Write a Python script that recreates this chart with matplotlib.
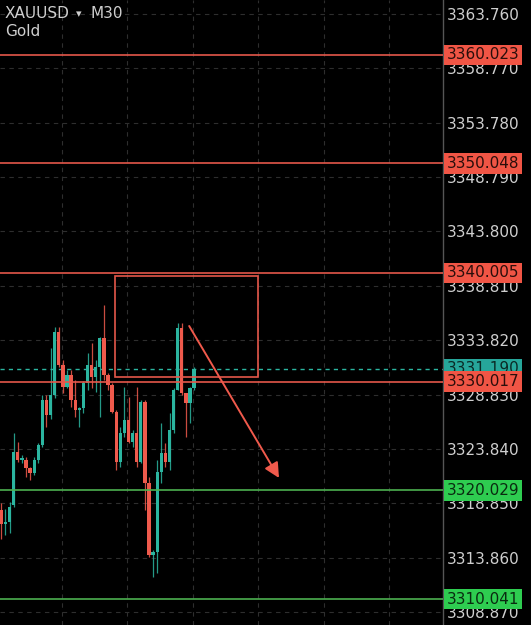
import numpy as np
import matplotlib
matplotlib.use('Agg')
import matplotlib.pyplot as plt
from matplotlib.patches import Rectangle
import matplotlib.transforms as mtransforms

# 30-minute candles (open, high, low, close)
opens = [3318.20, 3316.90, 3317.13, 3318.69, 3323.55, 3322.82, 3322.82, 3322.09, 3321.63,
         3322.82, 3324.20, 3328.33, 3326.95, 3328.79, 3334.57, 3331.54, 3329.52,
         3330.62, 3328.33, 3327.41, 3327.59, 3329.89, 3331.54, 3330.44, 3331.36,
         3334.02, 3330.62, 3329.70, 3327.23, 3322.64, 3325.30, 3326.49, 3324.47,
         3325.30, 3322.64, 3328.14, 3320.71, 3314.10, 3314.38, 3321.72, 3323.46,
         3322.64, 3325.57, 3329.25, 3334.94, 3328.97, 3328.05, 3329.43]
highs = [3318.90, 3318.30, 3318.97, 3325.30, 3324.47, 3323.28, 3323.10, 3322.18, 3323.10,
         3324.38, 3328.79, 3328.79, 3333.10, 3335.03, 3335.03, 3332.00, 3331.08,
         3331.08, 3330.16, 3327.69, 3330.07, 3332.64, 3333.56, 3332.00, 3334.11,
         3337.05, 3330.81, 3329.89, 3327.41, 3325.85, 3329.52, 3328.60, 3325.57,
         3329.52, 3328.33, 3328.33, 3321.26, 3314.56, 3322.82, 3326.22, 3324.38,
         3327.14, 3329.43, 3335.40, 3335.40, 3328.97, 3329.52, 3331.36]
lows = [3315.60, 3315.90, 3316.12, 3318.51, 3322.64, 3322.54, 3321.26, 3320.98, 3321.45,
        3322.54, 3324.01, 3325.85, 3326.60, 3328.50, 3331.36, 3328.97, 3329.43,
        3327.69, 3326.77, 3325.85, 3327.14, 3329.25, 3329.43, 3329.06, 3326.77,
        3330.16, 3329.25, 3327.14, 3321.90, 3322.18, 3324.93, 3324.38, 3324.01,
        3322.18, 3322.54, 3318.23, 3313.92, 3312.08, 3312.45, 3320.71, 3322.18,
        3321.90, 3325.30, 3329.25, 3328.79, 3324.93, 3326.22, 3329.25]
closes = [3316.90, 3317.13, 3318.51, 3323.55, 3322.82, 3323.00, 3322.09, 3321.63, 3322.82,
          3324.20, 3328.33, 3326.95, 3328.79, 3334.57, 3331.54, 3329.52, 3330.62,
          3328.33, 3327.41, 3327.59, 3329.89, 3331.54, 3330.44, 3331.36, 3334.02,
          3330.62, 3329.70, 3327.23, 3322.64, 3325.30, 3326.49, 3324.47, 3325.30,
          3322.64, 3328.14, 3320.71, 3314.10, 3314.38, 3321.72, 3323.46, 3322.64,
          3325.57, 3329.25, 3334.94, 3328.97, 3328.05, 3329.43, 3331.19]

resistance_levels = [3360.023, 3350.048, 3340.005, 3330.017]
support_levels = [3320.029, 3310.041]
last_price = 3331.19
y_ticks = [3363.760, 3358.770, 3353.780, 3348.790, 3343.800, 3338.810,
           3333.820, 3328.830, 3323.840, 3318.850, 3313.860, 3308.870]

# zone box and projected move (candle index, price)
zone_x = (27.7, 62.6)
zone_y = (3330.44, 3339.71)
arrow_start = (45.8, 3335.12)
arrow_end = (67.7, 3321.17)

UP = '#2bb5a0'
DOWN = '#ef5a4c'
RED_LINE = '#e4574a'
GREEN_LINE = '#4cb050'
GREEN_BOX = '#2ecc50'
TEXT = '#cfcfcf'

fig = plt.figure(figsize=(5.31, 6.25), dpi=100, facecolor='black')
ax = fig.add_axes([0, 0, 443 / 531, 1], facecolor='black')

idx = np.arange(len(opens))
for i in idx:
    o, h, l, c = opens[i], highs[i], lows[i], closes[i]
    col = UP if c >= o else DOWN
    ax.vlines(i, l, h, color=col, linewidth=0.9, alpha=0.85, zorder=3)
    body = max(abs(c - o), 0.18)
    ax.add_patch(Rectangle((i - 0.4, min(o, c)), 0.8, body,
                           facecolor=col, edgecolor='none', zorder=4))

ax.set_xlim(-0.34, 107.7)
ax.set_ylim(3307.67, 3365.05)

# grid
for gx in np.arange(14.8, 107, 15.95):
    ax.axvline(gx, color='#2e2e2e', linewidth=0.8, linestyle=(0, (4, 4)), zorder=1)
for gy in y_ticks:
    ax.axhline(gy, color='#2e2e2e', linewidth=0.8, linestyle=(0, (4, 4)), zorder=1)

# level lines
for lv in resistance_levels:
    ax.axhline(lv, color=RED_LINE, linewidth=1.2, zorder=5)
for lv in support_levels:
    ax.axhline(lv, color=GREEN_LINE, linewidth=1.2, zorder=5)
ax.axhline(last_price, color=UP, linewidth=1.0, linestyle=(0, (3, 3)), zorder=2)

# zone box
ax.add_patch(Rectangle((zone_x[0], zone_y[0]), zone_x[1] - zone_x[0],
                       zone_y[1] - zone_y[0], facecolor='none',
                       edgecolor=RED_LINE, linewidth=1.2, zorder=6))
ax.annotate('', xy=arrow_end, xytext=arrow_start,
            arrowprops=dict(arrowstyle='-|>,head_length=0.9,head_width=0.45',
                            color='#f05a4c', linewidth=1.4, shrinkA=0, shrinkB=0),
            zorder=7)

# right price axis
ax.yaxis.tick_right()
ax.set_yticks(y_ticks)
ax.set_yticklabels(['%.3f' % t for t in y_ticks])
ax.tick_params(axis='y', length=0, pad=3, labelsize=11, labelcolor=TEXT)
ax.set_xticks([])
for side in ['top', 'left', 'bottom']:
    ax.spines[side].set_visible(False)
ax.spines['right'].set_color('#555555')
ax.spines['right'].set_linewidth(1.0)

trans = mtransforms.blended_transform_factory(ax.transAxes, ax.transData)
for lv in resistance_levels:
    ax.text(1.008, lv, '%.3f' % lv, transform=trans, ha='left', va='center',
            fontsize=11, color='#2a0e0b', zorder=10, clip_on=False,
            bbox=dict(boxstyle='square,pad=0.18', facecolor='#f05545', edgecolor='none'))
for lv in support_levels:
    ax.text(1.008, lv, '%.3f' % lv, transform=trans, ha='left', va='center',
            fontsize=11, color='#0a2a10', zorder=10, clip_on=False,
            bbox=dict(boxstyle='square,pad=0.18', facecolor=GREEN_BOX, edgecolor='none'))
ax.text(1.008, last_price, '%.3f' % last_price, transform=trans, ha='left',
        va='center', fontsize=11, color='#0b2a26', zorder=9, clip_on=False,
        bbox=dict(boxstyle='square,pad=0.18', facecolor='#26a69a', edgecolor='none'))

# header
fig.text(5 / 531, 1 - 13 / 625, 'XAUUSD', color=TEXT, fontsize=11, ha='left', va='center')
fig.text(76 / 531, 1 - 14 / 625, '\u25BE', color=TEXT, fontsize=8, ha='left', va='center')
fig.text(90 / 531, 1 - 13 / 625, 'M30', color=TEXT, fontsize=11, ha='left', va='center')
fig.text(5 / 531, 1 - 31 / 625, 'Gold', color=TEXT, fontsize=11, ha='left', va='center')

fig.savefig('out.png', dpi=100, facecolor='black')
